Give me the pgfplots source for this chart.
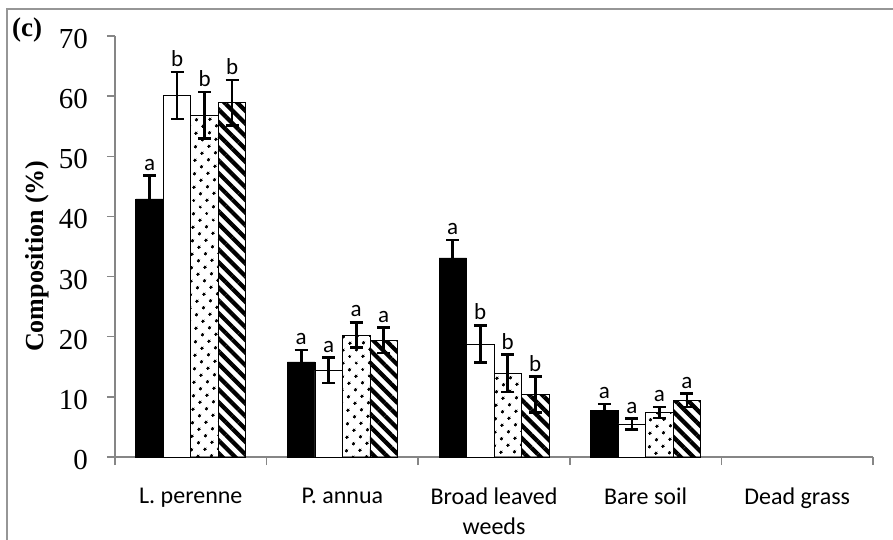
\documentclass[border=0pt]{standalone}
\usepackage{pgfplots}
\pgfplotsset{compat=1.18}
\usepackage{pgfplotstable}
\usetikzlibrary{patterns.meta}
\usepackage{fontspec}
\setmainfont{Liberation Serif}
\newfontfamily\carlito{Carlito}
\definecolor{axgray}{RGB}{134,134,134}
\definecolor{framegray}{RGB}{150,150,150}

\pgfplotstableread{
x y e l
0 42.9 3.9 a
1 15.8 2.0 a
2 33.1 3.0 a
3 7.7 1.1 a
}\tblA
\pgfplotstableread{
x y e l
0 60.1 3.9 b
1 14.4 2.1 a
2 18.8 3.1 b
3 5.5 0.9 a
}\tblB
\pgfplotstableread{
x y e l
0 56.8 3.9 b
1 20.3 2.1 a
2 13.9 3.1 b
3 7.4 0.9 a
}\tblC
\pgfplotstableread{
x y e l
0 58.9 3.8 b
1 19.4 2.1 a
2 10.4 3.0 b
3 9.4 1.1 a
}\tblD

\pgfplotsset{
  eb/.style={
    error bars/.cd, y dir=both, y explicit, error bar style={line width=2.7bp, black},
    error mark options={rotate=90, mark size=6.5bp, line width=2.7bp, black}
  },
  lab/.style={
    draw=none, fill=none, forget plot,
    nodes near coords, point meta=explicit symbolic,
    every node near coord/.append style={font=\carlito\fontsize{23bp}{26bp}\selectfont, black, anchor=south, inner sep=0pt, yshift=5bp},
  }
}

\begin{document}
\begin{tikzpicture}
\useasboundingbox (0,0) rectangle (893bp,540bp);
\draw[framegray, line width=2bp] (7bp,0) -- (7bp,531bp) -- (893bp,531bp);
\node[anchor=base west, inner sep=0pt, font=\fontsize{27bp}{30bp}\selectfont\bfseries] at (12bp,503bp) {(c)};
\begin{axis}[
  at={(115bp,83bp)}, anchor=south west,
  width=758bp, height=421bp, scale only axis,
  clip=false,
  ymin=0, ymax=70, ytick={0,10,...,70},
  xmin=-0.5, xmax=4.5,
  xtick={0,...,4},
  xticklabels={L. perenne, P. annua, {Broad leaved\\weeds}, Bare soil, Dead grass},
  minor xtick={-0.5,0.5,...,4.5},
  major x tick style={draw=none},
  axis x line*=bottom, axis y line*=left,
  axis line style={axgray, line width=1.5bp},
  tick style={axgray, line width=1.5bp},
  tick align=outside,
  major tick length=8bp, minor tick length=8bp,
  /pgf/number format/assume math mode=true,
  yticklabel style={font=\fontsize{29bp}{30bp}\selectfont, anchor=east, inner sep=0pt, xshift=-19bp, yshift=-3bp},
  xticklabel style={font=\carlito\fontsize{24bp}{30bp}\selectfont, align=center, anchor=north, inner sep=0pt, yshift=-22.5bp},
  ylabel={Composition (\%)},
  ylabel style={font=\fontsize{26bp}{30bp}\selectfont\bfseries, at={(axis description cs:-0.103,0.477)}, anchor=center},
  ybar, bar width=27.5bp,
]
\addplot[fill=black, draw=black, line width=0.8bp, bar shift=-41.25bp, eb]
  table[x=x, y=y, y error=e] {\tblA};
\addplot[fill=white, draw=black, line width=0.8bp, bar shift=-13.75bp, eb]
  table[x=x, y=y, y error=e] {\tblB};
\addplot[draw=black, line width=0.8bp, pattern={Dots[angle=45,distance=10bp,radius=1.8bp]}, bar shift=13.75bp, eb]
  table[x=x, y=y, y error=e] {\tblC};
\addplot[draw=black, line width=0.8bp, pattern={Lines[angle=-45,distance=9bp,line width=4.2bp]}, bar shift=41.25bp, eb]
  table[x=x, y=y, y error=e] {\tblD};
\addplot[lab, bar shift=-41.25bp] table[x=x, y expr=\thisrow{y}+\thisrow{e}, meta=l] {\tblA};
\addplot[lab, bar shift=-13.75bp] table[x=x, y expr=\thisrow{y}+\thisrow{e}, meta=l] {\tblB};
\addplot[lab, bar shift=13.75bp] table[x=x, y expr=\thisrow{y}+\thisrow{e}, meta=l] {\tblC};
\addplot[lab, bar shift=41.25bp] table[x=x, y expr=\thisrow{y}+\thisrow{e}, meta=l] {\tblD};
\end{axis}
\end{tikzpicture}
\end{document}
